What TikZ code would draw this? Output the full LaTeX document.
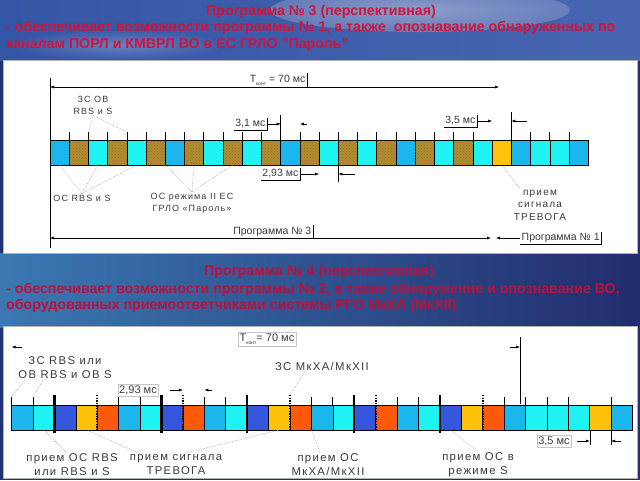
\documentclass[tikz,border=0pt]{standalone}
\usepackage{fontspec}
\setmainfont{Liberation Sans}
\newfontfamily\widefont[LetterSpace=12]{Liberation Sans}
\usetikzlibrary{arrows.meta,positioning,calc,patterns}

\definecolor{titlered}{HTML}{D0143C}
\definecolor{titledark}{HTML}{BA123A}
\definecolor{skyblue}{HTML}{1AB6EC}
\definecolor{cyancell}{HTML}{1EF2F2}
\definecolor{browncell}{HTML}{B48C2C}
\definecolor{browndot}{HTML}{6E5010}
\definecolor{goldcell}{HTML}{FFC20A}
\definecolor{royalcell}{HTML}{3456DC}
\definecolor{orangecell}{HTML}{FF5A0A}
\definecolor{labelgray}{HTML}{3A3A3A}
\definecolor{bgdeep}{HTML}{22307A}
\definecolor{skyL}{HTML}{3456A6}
\definecolor{skyM}{HTML}{8494C6}
\definecolor{skyR}{HTML}{4866B0}
\definecolor{cloud}{HTML}{C8D0E6}
\definecolor{seaL}{HTML}{3B78B2}
\definecolor{seaR}{HTML}{222C6E}

\tikzset{
  cell/.style={draw=black, line width=0.7pt, inner sep=0pt, outer sep=0pt, minimum height=25pt},
  cSky/.style={fill=skyblue},
  cCyan/.style={fill=cyancell},
  cBrown/.style={fill=browncell, postaction={pattern=crosshatch dots, pattern color=browndot!80}},
  cGold/.style={fill=goldcell},
  cRoyal/.style={fill=royalcell},
  cOrange/.style={fill=orangecell},
  tickline/.style={draw=black, line width=0.8pt},
  thickbar/.style={draw=black, line width=2.4pt},
  dotbar/.style={draw=black, line width=1.8pt, dash pattern=on 1.4pt off 1.2pt},
  leader/.style={draw=gray!75, densely dotted, line width=0.6pt},
  dimtip/.style={-{Latex[length=4pt,width=3pt]}, line width=0.5pt},
  dimboth/.style={{Latex[length=4pt,width=3pt]}-{Latex[length=4pt,width=3pt]}, line width=0.5pt},
  titletext/.style={font=\fontsize{14.2}{17}\selectfont\bfseries, text=titlered, inner sep=0pt},
  dimlabel/.style={font=\fontsize{10.5}{12}\selectfont, text=labelgray, inner sep=1.5pt},
  dimlabelbig/.style={font=\fontsize{11}{12}\selectfont, text=labelgray, inner sep=1.5pt, draw=gray!45, line width=0.4pt},
  note/.style={font=\widefont\fontsize{9}{12}\selectfont, text=labelgray, align=center, inner sep=1pt},
  notebig/.style={font=\widefont\fontsize{11.3}{14}\selectfont, text=labelgray, align=center, inner sep=1pt}
}

\begin{document}
\begin{tikzpicture}[x=1pt, y=-1pt]
\useasboundingbox (0,0) rectangle (640,480);

% background of the slide
\fill[bgdeep] (0,0) rectangle (640,480);
\shade[left color=skyL, middle color=skyM, right color=skyR] (0,0) rectangle (640,60);
\begin{scope}
  \clip (0,0) rectangle (640,60);
  \shade[inner color=cloud, outer color=skyM, opacity=0.55] (420,10) ellipse [x radius=150pt, y radius=22pt];
  \shade[inner color=cloud, outer color=skyL, opacity=0.35] (120,45) ellipse [x radius=110pt, y radius=16pt];
\end{scope}
\shade[left color=seaL, right color=seaR] (0,253) rectangle (640,327);
\fill[white, draw=gray!60] (3,60) rectangle (637,253);
\fill[white, draw=gray!60] (3,326) rectangle (637,478);

% headings
\node[titletext, anchor=north] (h3) at (321,5) {Программа № 3 (перспективная)};
\node[titletext, anchor=north west] (h3a) at (6,21) {- обеспечивает возможности программы № 1, а также \ опознавание обнаруженных по};
\node[titletext, anchor=north west] (h3b) at (6,38) {каналам ПОРЛ и КМВРЛ ВО в ЕС ГРЛО "Пароль"};
\node[titletext, text=titledark, anchor=north] (h4) at (319,265) {Программа № 4 (перспективная)};
\node[titletext, text=titledark, anchor=north west] (h4a) at (6,283) {- обеспечивает возможности программы № 2, а также обнаружение и опознавание ВО,};
\node[titletext, text=titledark, anchor=north west] (h4b) at (6,299) {оборудованных приемоответчиками системы РГО МкХА (МкXII)};

% ---- program 3 ----
\foreach \c [count=\i] in {cSky,cBrown,cCyan,cBrown,cCyan,cBrown,cSky,cBrown,cCyan,cBrown,cCyan,cBrown,cSky,cBrown,cCyan,cBrown,cCyan,cBrown,cSky,cBrown,cCyan,cBrown,cCyan,cGold,cSky,cCyan,cCyan,cSky}
  \node[cell, \c, minimum width=19.225pt] (a\i) at ({50+(\i-0.5)*19.225},152.5) {};
\foreach \i in {2,3,4,5,6,7,8,9,10,11,12,14,15,16,17,18,19,20,21,22,23,26,27,28}
  \draw[tickline] (a\i.north west) -- ++(0,-8) coordinate (ta\i);
\draw[tickline, line width=0.5pt] (a13.north west) -- ++(0,-25);
\draw[tickline, line width=0.5pt] (a25.north west) -- ++(0,-28);
\draw[tickline, line width=0.5pt] (a16.south west) -- ++(0,17);

\coordinate (ltop) at (50,78);
\coordinate (lbot) at (50,248);
\draw[line width=0.5pt] (ltop) -- (lbot);

% period
\coordinate (tkA) at (50,87);
\coordinate (tkB) at (499,87);
\draw[dimboth] (tkA) -- (tkB);
\node[dimlabel, anchor=south east] (tk) at (307,87) {T\raisebox{-0.5ex}{\tiny конт} = 70 мс};
\draw[line width=0.5pt] (tk.north east) -- (tk.south east);

% slot widths
\node[dimlabel, anchor=south east] (d31) at (267,130) {3,1 мс};
\draw[line width=0.5pt] (d31.south west) -- (d31.south east) -- (d31.north east);
\draw[dimtip] (d31.east) -- (d31.east -| a13.north west);
\draw[dimtip] ($(d31.east -| a14.north west)+(7,0)$) -- (d31.east -| a14.north west);

\node[dimlabel, anchor=east] (d293) at (300,174) {2,93 мс};
\draw[line width=0.5pt] (d293.south west) -- (d293.south east) -- (d293.north east);
\draw[dimtip] (d293.east) -- (d293.east -| a15.north west);
\draw[dimtip] ($(d293.east -| a16.south west)+(17,0)$) -- (d293.east -| a16.south west);

\node[dimlabel, anchor=east] (d35) at (477,121) {3,5 мс};
\draw[line width=0.5pt] (d35.south west) -- (d35.south east) -- (d35.north east);
\draw[dimtip] (d35.east) -- (d35.east -| a24.north west);
\draw[dimtip] ($(d35.east -| a25.north west)+(16,0)$) -- (d35.east -| a25.north west);

% programs
\coordinate (p3A) at (50,238);
\coordinate (p3B) at (491,238);
\draw[dimboth] (p3A) -- (p3B);
\node[dimlabel, anchor=south east] (p3) at (313,238) {Программа № 3};
\draw[line width=0.5pt] (p3.north east) -- (p3.south east);
\node[dimlabel, anchor=west] (p1) at (520,238) {Программа № 1};
\draw[line width=0.5pt] (p1.south west) -- (p1.south east) -- (p1.north east);
\coordinate (p1A) at (496,238);
\draw[dimtip] (p1.west) -- (p1A);

% notes
\node[note] (zsob) at (93,105) {ЗС ОВ\\RBS и S};
\draw[leader] (zsob.south) -- (ta3);
\draw[leader] (zsob.south) -- (ta5);
\node[note] (osrbs) at (82,198) {ОС RBS и S};
\draw[leader] (osrbs.north) -- (a1.south);
\draw[leader] (osrbs.north) -- (a3.south);
\draw[leader] (osrbs.north) -- (a5.south);
\node[note] (osII) at (192,203) {ОС режима II ЕС\\ГРЛО «Пароль»};
\draw[leader] (osII.north) -- (a6.south east);
\draw[leader] (osII.north) -- (a8.south);
\draw[leader] (osII.north) -- (a10.south);
\node[note, font=\widefont\fontsize{10}{12.5}\selectfont] (alarm1) at (540,205) {прием\\сигнала\\ТРЕВОГА};
\draw[leader] (a24.south) -- ([xshift=-20pt]alarm1.north);

% ---- program 4 ----
\foreach \c [count=\i] in {cSky,cCyan,cRoyal,cGold,cOrange,cSky,cCyan,cRoyal,cOrange,cSky,cCyan,cRoyal,cGold,cOrange,cSky,cCyan,cRoyal,cOrange,cSky,cCyan,cRoyal,cGold,cOrange,cSky,cCyan,cCyan,cCyan,cGold,cSky}
  \node[cell, \c, minimum width=21.41pt] (b\i) at ({11.7+(\i-0.5)*21.41},417.5) {};
\foreach \i in {1,2,6,7,10,11,15,16,19,20,24,25,26,27,29}
  \draw[tickline] (b\i.north west) -- ++(0,-8) coordinate (tb\i);
\foreach \i in {3,8,12,17,21}
  \draw[thickbar] ($(b\i.north west)+(0,-10)$) -- ($(b\i.south west)+(0,3)$);
\foreach \i in {5,9,14,18,23}
  \draw[dotbar] ($(b\i.north west)+(0,-10)$) coordinate (tb\i) -- ($(b\i.south west)+(0,1)$);
\draw[tickline, line width=0.5pt] (b28.south west) -- ++(0,15);
\draw[tickline, line width=0.5pt] (b29.south west) -- ++(0,15);

% period
\node[dimlabelbig, anchor=center] (tkb) at (267,339) {T\raisebox{-0.5ex}{\tiny конт}= 70 мс};
\coordinate (tkbR) at (520,337);
\coordinate (tkbRb) at (520,404);
\draw[line width=0.5pt] (tkbR) -- (tkbRb);
\coordinate (tkbL) at (22,347);
\draw[dimtip] (tkbL) -- (tkbL -| b1.west);
\coordinate (tkbM) at (510,347);
\draw[dimtip] (tkbM) -- (tkbM -| tkbR);

% slot widths
\node[dimlabelbig, anchor=center] (e293) at (138,390) {2,93 мс};
\draw[dimtip] ($(e293.east)+(12,0)$) -- (e293.east -| b9.north west);
\draw[dimtip] ($(e293.east -| b10.north west)+(8,0)$) -- (e293.east -| b10.north west);
\node[dimlabelbig, anchor=center] (e35) at (554,441) {3,5 мс};
\draw[dimtip] ($(e35.east)+(6,0)$) -- (e35.east -| b28.south west);
\draw[dimtip] ($(e35.east -| b29.south west)+(10,0)$) -- (e35.east -| b29.south west);

% notes
\node[notebig] (zsb) at (65,368) {ЗС RBS или\\ОВ RBS и ОВ S};
\draw[leader] ([xshift=-40pt]zsb.south) -- (tb1);
\draw[leader] ([xshift=-22pt]zsb.south) -- (tb2);
\node[notebig] (zsmk) at (322,366) {ЗС МкХА/МкXII};
\draw[leader] ([xshift=-17pt]zsmk.south) -- (tb14);
\node[notebig] (rx1) at (72,465) {прием ОС RBS\\или RBS и S};
\draw[leader] (b2.south) -- ([xshift=-5pt]rx1.north);
\node[notebig] (alarm2) at (176,465) {прием сигнала\\ТРЕВОГА};
\draw[leader] (b4.south) -- ([xshift=-36pt]alarm2.north);
\draw[leader] (b13.south) -- ([xshift=7pt]alarm2.north);
\node[notebig] (rx2) at (328,465) {прием ОС\\МкХА/МкXII};
\draw[leader] (b14.south east) -- ([xshift=-8pt]rx2.north);
\node[notebig] (rx3) at (478,465) {прием ОС в\\режиме S};
\draw[leader] (b21.south) -- (rx3.north);
\end{tikzpicture}
\end{document}
